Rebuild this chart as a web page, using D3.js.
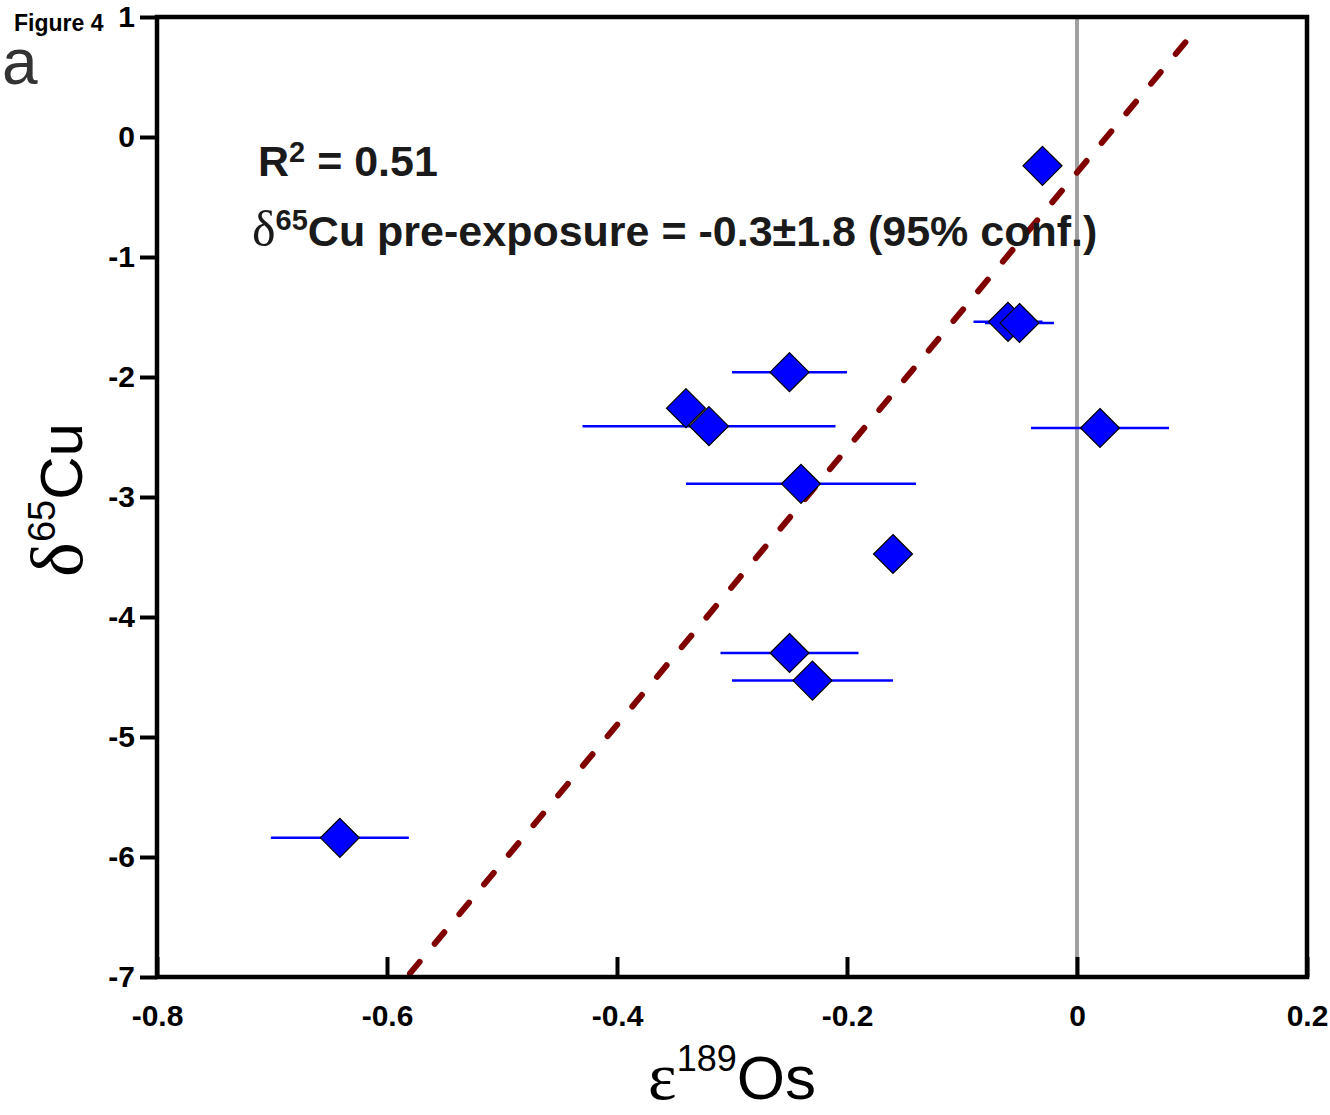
<!DOCTYPE html>
<html><head><meta charset="utf-8">
<script src="https://cdn.jsdelivr.net/npm/d3@7"></script>
<style>body{margin:0;background:#fff} svg{display:block}</style>
</head><body><svg id="c" width="1330" height="1115"></svg>
<script>
// ---- data ----
const xValues = [-0.03, -0.06, -0.05, -0.25, -0.34, -0.32, -0.24, 0.02, -0.16, -0.25, -0.23, -0.641];
const yValues = [-0.24, -1.54, -1.55, -1.96, -2.26, -2.41, -2.89, -2.425, -3.475, -4.30, -4.53, -5.84];
const xErrors = [0, 0.03, 0.03, 0.05, 0, 0.11, 0.10, 0.06, 0, 0.06, 0.07, 0.06];
const fitX = [-0.58, 0.097];
const fitY = [-6.97, 0.82];
const xTicks = [-0.8, -0.6, -0.4, -0.2, 0, 0.2];
const xTickLabels = ["-0.8", "-0.6", "-0.4", "-0.2", "0", "0.2"];
const yTicks = [-7, -6, -5, -4, -3, -2, -1, 0, 1];
const yTickLabels = ["-7", "-6", "-5", "-4", "-3", "-2", "-1", "0", "1"];

const svg = d3.select("#c");
const L = 157, R = 1307, T = 17, B = 977;
const x = d3.scaleLinear().domain([-0.8, 0.2]).range([L, R]);
const y = d3.scaleLinear().domain([-7, 1]).range([B, T]);
const sans = "'Liberation Sans', Arial, Helvetica, sans-serif";
const serif = "'Liberation Serif', 'Times New Roman', serif";

// zero line
svg.append("line").attr("x1", x(0)).attr("x2", x(0)).attr("y1", T).attr("y2", B)
  .attr("stroke", "#a0a0a0").attr("stroke-width", 4);

// regression line
svg.append("path")
  .datum(fitX.map((v, i) => [v, fitY[i]]))
  .attr("d", d3.line().x(d => x(d[0])).y(d => y(d[1])))
  .attr("fill", "none").attr("stroke", "#800000").attr("stroke-width", 6)
  .attr("stroke-linecap", "round").attr("stroke-dasharray", "15 23.6");

const pts = xValues.map((v, i) => ({x: v, y: yValues[i], e: xErrors[i]}));

// error bars
svg.append("g").selectAll("line").data(pts.filter(d => d.e > 0)).join("line")
  .attr("x1", d => x(d.x - d.e)).attr("x2", d => x(d.x + d.e))
  .attr("y1", d => y(d.y)).attr("y2", d => y(d.y))
  .attr("stroke", "#0000ff").attr("stroke-width", 2.5);

// diamonds
const h = 19.5;
svg.append("g").selectAll("path").data(pts).join("path")
  .attr("d", d => {
    const cx = x(d.x), cy = y(d.y);
    return `M${cx},${cy - h}L${cx + h},${cy}L${cx},${cy + h}L${cx - h},${cy}Z`;
  })
  .attr("fill", "#0000ff").attr("stroke", "#000").attr("stroke-width", 1.2);

// axes
const xa = svg.append("g").attr("transform", `translate(0,${B})`)
  .call(d3.axisBottom(x).tickValues(xTicks).tickSize(-20).tickPadding(28)
    .tickFormat((d, i) => xTickLabels[i]));
const ya = svg.append("g").attr("transform", `translate(${L},0)`)
  .call(d3.axisLeft(y).tickValues(yTicks).tickSize(17).tickPadding(5)
    .tickFormat((d, i) => yTickLabels[i]));
[xa, ya].forEach(a => {
  a.select(".domain").remove();
  a.selectAll(".tick line").attr("stroke", "#000").attr("stroke-width", 4);
  a.selectAll(".tick text").attr("fill", "#000")
    .style("font-family", sans).style("font-weight", "bold").style("font-size", "30px");
});

// frame
svg.append("rect").attr("x", L).attr("y", T).attr("width", R - L).attr("height", B - T)
  .attr("fill", "none").attr("stroke", "#000").attr("stroke-width", 4.5);

// corner labels
svg.append("text").attr("x", 14).attr("y", 31).text("Figure 4")
  .style("font-family", sans).style("font-weight", "bold").style("font-size", "23px");
svg.append("text").attr("x", 2).attr("y", 84).text("a").attr("fill", "#333")
  .style("font-family", sans).style("font-size", "64px");

// annotations
const a1 = svg.append("text").attr("x", 258).attr("y", 176)
  .style("font-family", sans).style("font-weight", "bold").style("font-size", "43px").attr("fill", "#1a1a1a");
a1.append("tspan").text("R");
a1.append("tspan").text("2").attr("dy", -14).style("font-size", "29px");
a1.append("tspan").text(" = 0.51").attr("dy", 14);

const a2 = svg.append("text").attr("x", 252).attr("y", 246)
  .style("font-family", sans).style("font-weight", "bold").style("font-size", "43px").attr("fill", "#1a1a1a");
a2.append("tspan").text("δ").style("font-family", serif).style("font-weight", "normal").style("font-size", "50px");
a2.append("tspan").text("65").attr("dy", -16).style("font-size", "29px");
a2.append("tspan").text("Cu pre-exposure = -0.3±1.8 (95% conf.)").attr("dy", 16);

// axis titles
const xt = svg.append("text").attr("x", 732).attr("y", 1099).attr("text-anchor", "middle")
  .style("font-family", sans).style("font-size", "62px");
xt.append("tspan").text("ε").style("font-family", serif).style("font-size", "68px");
xt.append("tspan").text("189").attr("dy", -28).style("font-size", "36px");
xt.append("tspan").text("Os").attr("dy", 28);

const yt = svg.append("text").attr("transform", "translate(82,500) rotate(-90)").attr("text-anchor", "middle")
  .style("font-family", sans).style("font-size", "60px");
yt.append("tspan").text("δ").style("font-family", serif).style("font-size", "74px");
yt.append("tspan").text("65").attr("dy", -27).style("font-size", "38px");
yt.append("tspan").text("Cu").attr("dy", 27);
</script></body></html>
